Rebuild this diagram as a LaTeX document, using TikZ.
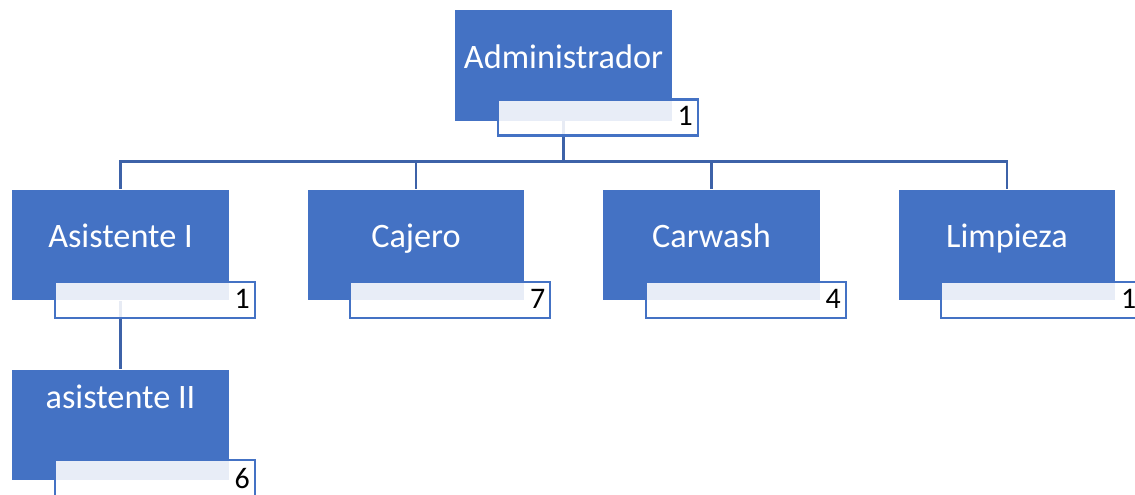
\documentclass[tikz,border=0pt]{standalone}
\usepackage{fontspec}
\setmainfont{Carlito}
\usetikzlibrary{backgrounds}
\definecolor{roleblue}{HTML}{4472C4}
\definecolor{linkblue}{HTML}{3D62A8}
\begin{document}
\begin{tikzpicture}[x=0.02cm,y=-0.02cm,
	role/.style={rectangle,fill=roleblue,text=white,minimum width=4.34cm,minimum height=2.22cm,
		font=\fontsize{19.5}{23}\selectfont,text height=0.5cm,text depth=0.4cm,inner sep=0pt},
	count/.style={rectangle,draw=roleblue,line width=1.3pt,fill=white,fill opacity=0.88,text opacity=1,
		minimum width=4cm,minimum height=0.72cm,text width=3.8cm,align=right,inner xsep=0.1cm,
		font=\fontsize{17}{20}\selectfont,text height=0.4cm,text depth=0.06cm,anchor=north west},
	link/.style={draw=linkblue,line width=1.4pt}]
	\useasboundingbox (0,0) rectangle (1135,494);

	% puestos
	\node[role] (admin) at (563.5,65.5) {Administrador};
	\node[role] (asis1) at (120.5,245) {Asistente I};
	\node[role] (cajero) at (416,245) {Cajero};
	\node[role] (carwash) at (711.5,245) {Carwash};
	\node[role] (limpieza) at (1007,245) {Limpieza};
	\node[role,text depth=1.18cm] (asis2) at (120.5,425) {asistente II};

	% cantidades
	\node[count] (admin-n) at ([shift={(42,-23)}]admin.south west) {1};
	\node[count] (asis1-n) at ([shift={(42,-20)}]asis1.south west) {1};
	\node[count] (cajero-n) at ([shift={(42,-20)}]cajero.south west) {7};
	\node[count] (carwash-n) at ([shift={(42,-20)}]carwash.south west) {4};
	\node[count] (limpieza-n) at ([shift={(42,-20)}]limpieza.south west) {1};
	\node[count,minimum height=0.8cm] (asis2-n) at ([shift={(42,-22)}]asis2.south west) {6};

	\begin{scope}[on background layer]
	\foreach \c in {asis1,cajero,carwash,limpieza}
		\draw[link] (admin.south) -- ++(0,40) -| (\c.north);
	\draw[link] (asis1.south) -- (asis2.north);
	\end{scope}
\end{tikzpicture}
\end{document}
